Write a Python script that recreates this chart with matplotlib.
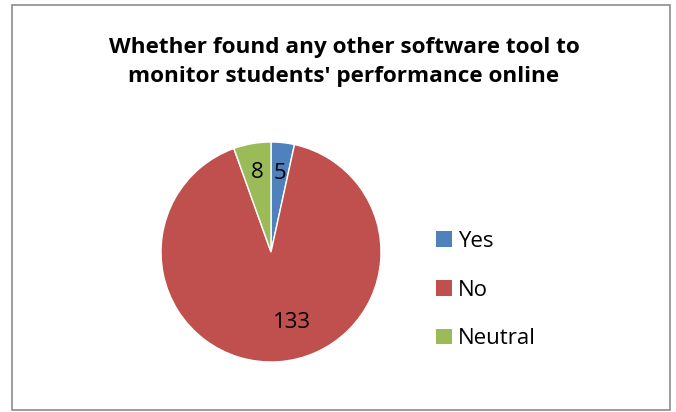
import numpy as np
import matplotlib
matplotlib.use("Agg")
import matplotlib.pyplot as plt
from matplotlib.patches import Rectangle, Patch

title = "Whether found any other software tool to\nmonitor students' performance online"
categories = ["Yes", "No", "Neutral"]
values = [5, 133, 8]
colors = ["#4F81BD", "#C0504D", "#9BBB59"]

plt.rcParams['font.family'] = ['Open Sans', 'DejaVu Sans']

W, H = 676, 412
fig = plt.figure(figsize=(W / 100, H / 100), dpi=100)

# outer border
fig.patches.append(Rectangle((11.5 / W, 1 - 410 / H), (670 - 11.5) / W, (410 - 4.5) / H,
                             transform=fig.transFigure, fill=False,
                             edgecolor="#8c8c8c", linewidth=1.2))

fig.text(344 / W, 1 - 62 / H, title, ha="center", va="center",
         fontsize=16.2, fontweight="bold", linespacing=1.5)

ax = fig.add_axes([161 / W, 1 - 362 / H, 220 / W, 220 / H])
wedges, _ = ax.pie(values, colors=colors, startangle=90, counterclock=False,
                   radius=1.0, wedgeprops=dict(edgecolor="white", linewidth=1.0))
ax.set_xlim(-1, 1)
ax.set_ylim(-1, 1)
ax.set_aspect("equal")
ax.axis("off")

# data labels
dists = [0.72, None, 0.73]
for w, v, d in zip(wedges, values, dists):
    if d is None:
        x, y = 0.19, -0.64
    else:
        th = np.deg2rad((w.theta1 + w.theta2) / 2)
        x, y = d * np.cos(th), d * np.sin(th)
    ax.text(x, y, str(v), ha="center", va="center", fontsize=16)

handles = [Patch(facecolor=c, edgecolor="none") for c in colors]
fig.legend(handles, categories, loc="center left",
           bbox_to_anchor=(416 / W, 1 - 290 / H), frameon=False,
           fontsize=16, handlelength=0.7, handleheight=0.7,
           handletextpad=0.3, labelspacing=1.25)

fig.savefig("out.png", dpi=100)
